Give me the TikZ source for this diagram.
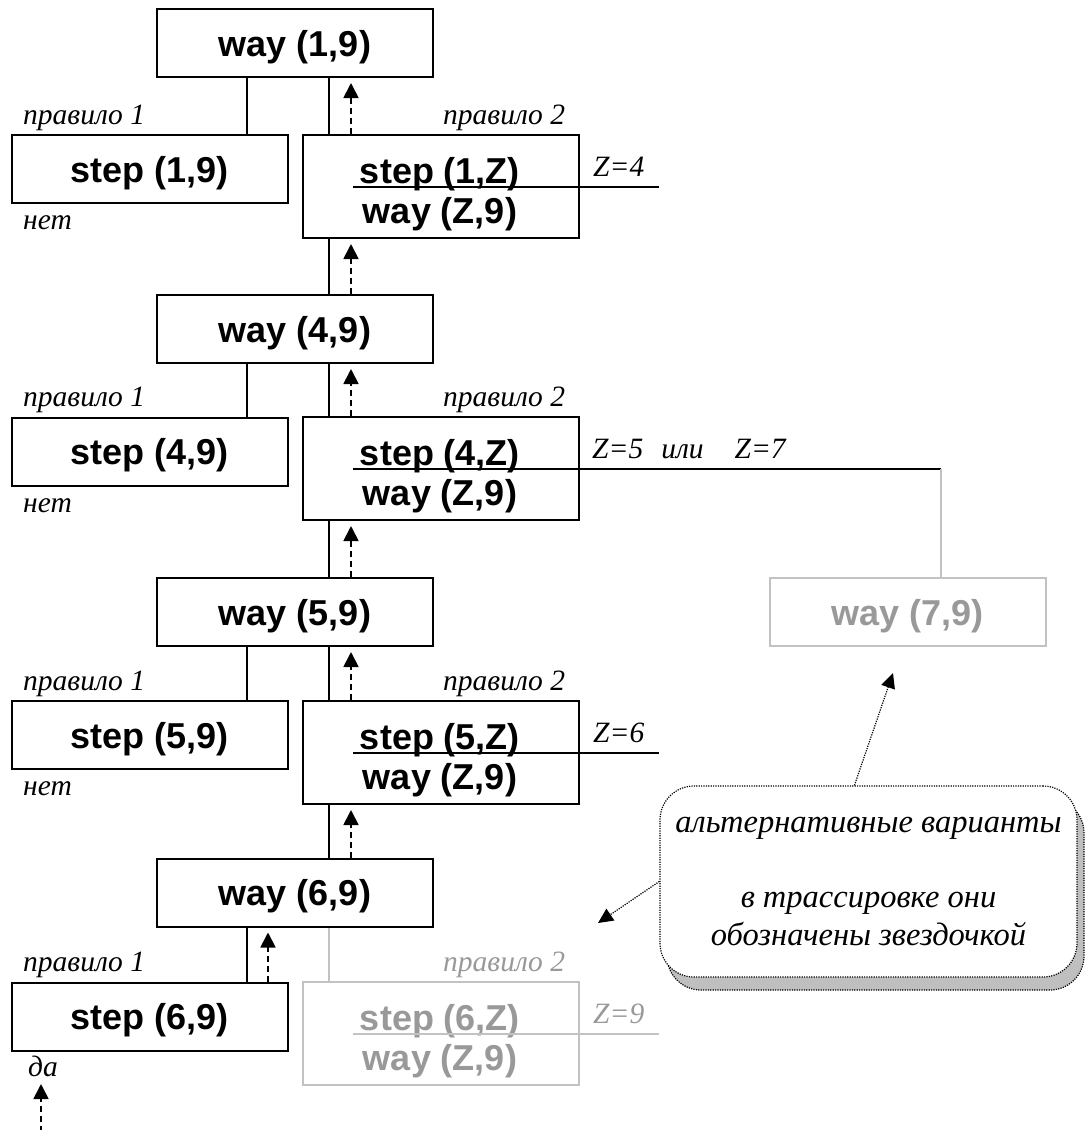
\documentclass[tikz,border=0pt]{standalone}
\usepackage{fontspec}
\setmainfont{Liberation Serif}
\newfontfamily\boxfont{Liberation Sans}
\usetikzlibrary{arrows.meta,shadows}
\definecolor{gtext}{gray}{0.6}
\definecolor{gline}{gray}{0.76}
\definecolor{shadowg}{gray}{0.75}
\begin{document}
\begin{tikzpicture}[x=1pt,y=-1pt,
  box/.style={draw,line width=2pt,minimum width=276pt,inner sep=0pt,text height=26pt,text depth=0pt,font=\boxfont\bfseries\fontsize{36}{40}\selectfont},
  sbox/.style={box,minimum height=68pt},
  dbox/.style={box,minimum height=103pt},
  btext/.style={inner sep=0pt,anchor=base,font=\boxfont\bfseries\fontsize{36}{40}\selectfont},
  ghost/.style={draw=gline,text=gtext},
  lbl/.style={font=\itshape\fontsize{29.5}{33}\selectfont,inner sep=0pt,anchor=base west},
  conn/.style={line width=1.5pt},
  gconn/.style={line width=1.5pt,draw=gline},
  back/.style={line width=1.8pt,dash pattern=on 6pt off 4pt,-{Triangle[length=15pt,width=15pt]}},
  dotarrow/.style={line width=1.2pt,dash pattern=on 1.2pt off 1.2pt,-{Triangle[length=15pt,width=14pt]}},
]
\useasboundingbox (0,0) rectangle (1091,1130);

% ---------- row 1 ----------
\node[sbox] (w1) at (295,43) {way (1,9)};
\node[sbox] (s1) at (149.5,169) {step (1,9)};
\node[dbox] (d1) at (440.5,186.5) {};
\node[btext] (d1a) at (440,183) {step (1,Z)};
\node[btext] (d1b) at (440,223) {way (Z,9)};
\node[lbl] (r11) at (23,124) {правило 1};
\node[lbl] (r12) at (443,124) {правило 2};
\node[lbl] (n1) at (23,229) {нет};
\node[lbl] (z1) at (593,176) {Z=4};
\coordinate (u1s) at (353,187);
\coordinate (u1e) at (659,187);
\draw[conn] (u1s) -- (u1e);

% ---------- row 4 ----------
\node[sbox] (w4) at (295,329) {way (4,9)};
\node[sbox] (s4) at (149.5,451.5) {step (4,9)};
\node[dbox] (d4) at (440.5,468.5) {};
\node[btext] (d4a) at (440,465) {step (4,Z)};
\node[btext] (d4b) at (440,505) {way (Z,9)};
\node[lbl] (r41) at (23,406) {правило 1};
\node[lbl] (r42) at (443,406) {правило 2};
\node[lbl] (n4) at (23,512) {нет};
\node[lbl] (z4) at (592,458) {Z=5\hspace{18pt}или\hspace{31pt}Z=7};
\coordinate (u4s) at (353,469);
\coordinate (u4e) at (941,469);
\draw[conn] (u4s) -- (u4e);

% ---------- row 5 ----------
\node[sbox] (w5) at (295,612) {way (5,9)};
\node[sbox,ghost] (w7) at (907.5,612) {way (7,9)};
\node[sbox] (s5) at (149.5,735) {step (5,9)};
\node[dbox] (d5) at (440.5,752.5) {};
\node[btext] (d5a) at (440,749) {step (5,Z)};
\node[btext] (d5b) at (440,789) {way (Z,9)};
\node[lbl] (r51) at (23,690) {правило 1};
\node[lbl] (r52) at (443,690) {правило 2};
\node[lbl] (n5) at (23,795) {нет};
\node[lbl] (z5) at (593,742) {Z=6};
\coordinate (u5s) at (353,753);
\coordinate (u5e) at (659,753);
\draw[conn] (u5s) -- (u5e);
\draw[gconn] (u4e) -- (u4e |- w7.north);

% ---------- row 6 ----------
\node[sbox] (w6) at (295,892.5) {way (6,9)};
\node[sbox] (s6) at (149.5,1016.5) {step (6,9)};
\node[dbox,ghost] (d6) at (440.5,1033.5) {};
\node[btext,text=gtext] (d6a) at (440,1030) {step (6,Z)};
\node[btext,text=gtext] (d6b) at (440,1070) {way (Z,9)};
\node[lbl] (r61) at (23,971) {правило 1};
\node[lbl,text=gtext] (r62) at (443,971) {правило 2};
\node[lbl] (n6) at (28,1076) {да};
\node[lbl,text=gtext] (z6) at (593,1023) {Z=9};
\coordinate (u6s) at (353,1034);
\coordinate (u6e) at (659,1034);
\draw[gconn] (u6s) -- (u6e);

% ---------- connectors ----------
\foreach \w/\s/\d in {w1/s1/d1,w4/s4/d4,w5/s5/d5}{
  \draw[conn] ([xshift=91pt]\w.south west) -- ([xshift=91pt]\w.south west |- \s.north);
  \draw[conn] ([xshift=173pt]\w.south west) -- ([xshift=173pt]\w.south west |- \d.north);
  \draw[back] ([xshift=195pt]\w.south west |- \d.north) -- ([xshift=195pt,yshift=-5pt]\w.south west);
}
\foreach \d/\w in {d1/w4,d4/w5,d5/w6}{
  \draw[conn] ([xshift=173pt]\w.north west |- \d.south) -- ([xshift=173pt]\w.north west);
  \draw[back] ([xshift=195pt]\w.north west) -- ([xshift=195pt,yshift=-5pt]\w.north west |- \d.south);
}
\draw[conn] ([xshift=91pt]w6.south west) -- ([xshift=91pt]w6.south west |- s6.north);
\draw[back] ([xshift=112pt]w6.south west |- s6.north) -- ([xshift=112pt,yshift=-5pt]w6.south west);
\draw[gconn] ([xshift=173pt]w6.south west) -- ([xshift=173pt]w6.south west |- d6.north);

\coordinate (st) at (41,1132);
\coordinate (sttip) at (41,1084);
\draw[back] (st) -- (sttip);

% ---------- callout ----------
\node[draw,line width=1.2pt,dash pattern=on 1.2pt off 1.2pt,rounded corners=34pt,fill=white,
      minimum width=417pt,minimum height=191pt,align=center,
      font=\itshape\fontsize{32.5}{37.5}\selectfont,
      drop shadow={shadow xshift=7pt,shadow yshift=-13pt,fill=shadowg,draw=black,line width=1.2pt,dash pattern=on 1.2pt off 1.2pt,opacity=1}]
  (co) at (868.5,881.5) {\raisebox{-3pt}{альтернативные варианты}\\[37.5pt]\raisebox{-3pt}{в трассировке они}\\\raisebox{-3pt}{обозначены звездочкой}};
\coordinate (p1) at (893,673);
\coordinate (p2) at (598,923);
\draw[dotarrow] ([xshift=195pt]co.north west) -- (p1);
\draw[dotarrow] ([yshift=-96pt]co.north west) -- (p2);
\end{tikzpicture}
\end{document}
